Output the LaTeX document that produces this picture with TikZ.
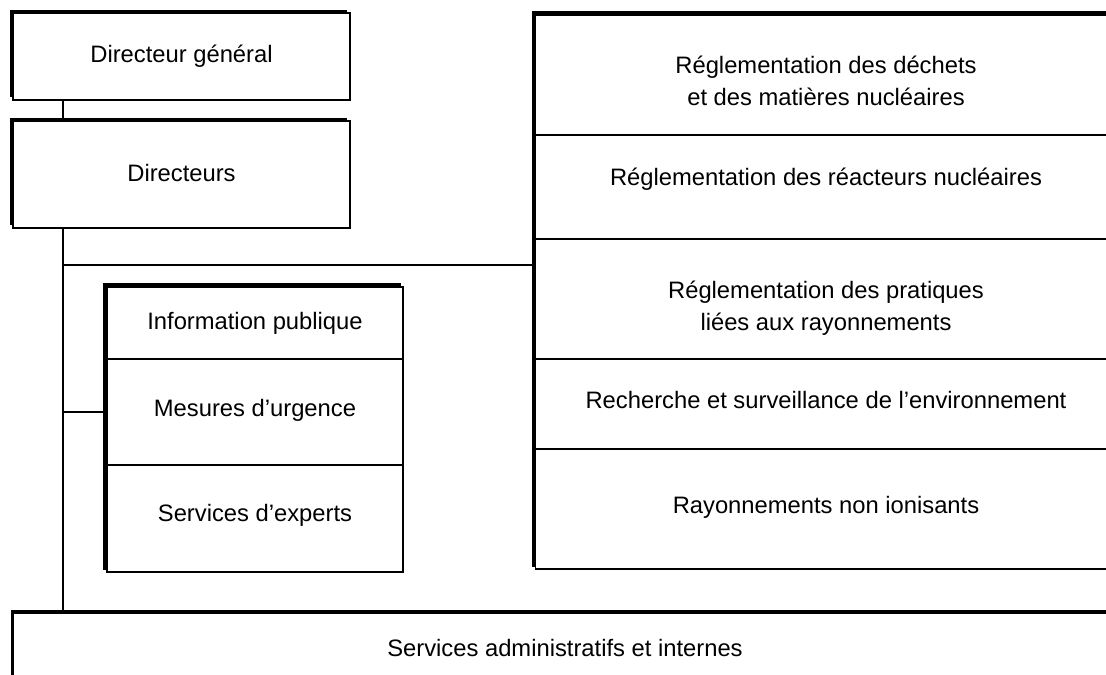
\documentclass[tikz,border=0pt]{standalone}
\usepackage{fontspec}
\setmainfont{Liberation Sans}
\usetikzlibrary{shadows}
\usetikzlibrary{fit,backgrounds}
\tikzset{
  unit/.style={
    draw,
    fill=white,
    line width=0.8pt,
    inner sep=0pt,
    align=center,
    drop shadow={shadow xshift=-0.075cm, shadow yshift=0.075cm, fill=black, opacity=1}
  },
  cell/.style={
    draw,
    line width=0.8pt,
    inner sep=0pt,
    align=center
  },
  link/.style={
    line width=0.8pt
  },
  every picture/.style = {
    font=\fontsize{16.9}{22.7}\selectfont
  }
}

\begin{document}
\begin{tikzpicture}[x=0.025cm, y=-0.025cm]
        \useasboundingbox (0,0) rectangle (1106,675);
        \node[unit, minimum width=8.425cm, minimum height=2.175cm] (gen) at (181.5,56.5) {Directeur général};
        \node[unit, minimum width=8.425cm, minimum height=2.675cm, text depth=2.8pt] (dir) at (181.5,174.5) {Directeurs};
        % services
        \node[cell, minimum width=7.4cm, minimum height=1.8cm] (info) at (255,323) {Information publique};
        \node[cell, minimum width=7.4cm, minimum height=2.65cm, text depth=6.4pt] (urg) at (255,412) {Mesures d’urgence};
        \node[cell, minimum width=7.4cm, minimum height=2.675cm, text depth=7.8pt] (expert) at (255,518.5) {Services d’experts};
        % directions
        \node[cell, minimum width=14.5cm, minimum height=3cm] (wastes) at (826,75) {\rule{0pt}{21pt}Réglementation des déchets\\et des matières nucléaires};
        \node[cell, minimum width=14.5cm, minimum height=2.6cm, text depth=15pt] (reac) at (826,187) {Réglementation des réacteurs nucléaires};
        \node[cell, minimum width=14.5cm, minimum height=3cm] (pract) at (826,299) {\rule{0pt}{25pt}Réglementation des pratiques\\liées aux rayonnements};
        \node[cell, minimum width=14.5cm, minimum height=2.25cm, text depth=5.7pt] (envir) at (826,404) {Recherche et surveillance de l’environnement};
        \node[cell, minimum width=14.5cm, minimum height=3cm, text depth=6.4pt] (nonion) at (826,509) {Rayonnements non ionisants};
        \begin{scope}[on background layer]
            \node[unit, fit=(info)(expert)] (svc) {};
            \node[unit, fit=(wastes)(nonion)] (reg) {};
        \end{scope}
        \node[unit, minimum width=27.55cm, minimum height=1.75cm] (admin) at (565,648) {Services administratifs et internes};
        \coordinate (spine) at (63,265);
        \draw[link] (gen.south -| spine) -- (dir.north -| spine);
        \draw[link] (dir.south -| spine) -- (admin.north -| spine);
        \draw[link] (spine) -- (spine -| reg.west);
        \draw[link] (urg.west) -- (urg.west -| spine);
    \end{tikzpicture}
\end{document}
